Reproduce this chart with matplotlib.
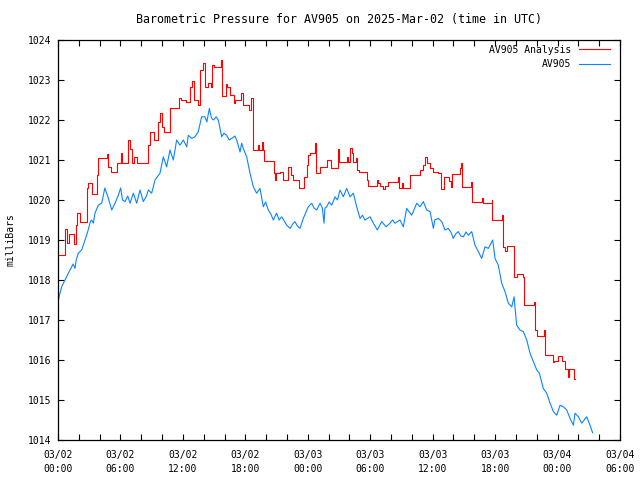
import matplotlib
matplotlib.use("Agg")
import matplotlib.pyplot as plt

# hours since 2025-03-02 00:00 UTC, pressure in mb
blue_h = [0.03, 0.1, 0.35, 0.67, 1.15, 1.45, 1.63, 1.75, 1.95, 2.27, 2.6, 2.9, 3.1, 3.23, 3.4,
          3.55, 3.88, 4.2, 4.5, 4.84, 5.16, 5.48, 5.8, 6.02, 6.2, 6.44, 6.7, 6.92, 7.24, 7.56,
          7.88, 8.2, 8.5, 8.68, 9.0, 9.32, 9.8, 10.12, 10.44, 10.76, 11.08, 11.4, 11.72, 12.04,
          12.37, 12.52, 12.85, 13.16, 13.48, 13.8, 14.12, 14.3, 14.54, 14.75, 14.93, 15.2, 15.4,
          15.73, 15.95, 16.2, 16.45, 16.69, 17.0, 17.17, 17.49, 17.65, 17.8, 18.13, 18.45, 18.77,
          19.09, 19.41, 19.73, 19.95, 20.21, 20.45, 20.69, 21.0, 21.25, 21.5, 21.98, 22.3, 22.55,
          22.77, 23.0, 23.25, 23.57, 24.05, 24.38, 24.6, 24.86, 25.18, 25.4, 25.56, 25.65, 25.82,
          26.05, 26.3, 26.62, 26.85, 27.1, 27.41, 27.74, 28.06, 28.38, 28.7, 29.02, 29.25, 29.5,
          29.98, 30.3, 30.68, 31.1, 31.52, 31.9, 32.15, 32.38, 32.86, 33.18, 33.5, 33.75, 33.98,
          34.2, 34.47, 34.79, 35.1, 35.43, 35.75, 36.07, 36.2, 36.55, 36.87, 37.19, 37.5, 37.75,
          37.98, 38.2, 38.46, 38.7, 38.95, 39.2, 39.43, 39.75, 40.07, 40.39, 40.71, 41.03, 41.35,
          41.77, 41.99, 42.31, 42.63, 42.95, 43.27, 43.6, 43.82, 44.07, 44.39, 44.71, 45.04,
          45.35, 45.67, 46.0, 46.25, 46.63, 46.96, 47.28, 47.6, 47.92, 48.24, 48.56, 48.88, 49.2,
          49.52, 49.68, 50.0, 50.32, 50.8, 51.12, 51.37]
blue_mb = [1017.46, 1017.58, 1017.83, 1018.0, 1018.25, 1018.4, 1018.29, 1018.5, 1018.67, 1018.75,
           1019.0, 1019.25, 1019.45, 1019.5, 1019.42, 1019.67, 1019.87, 1019.92, 1020.3, 1020.04,
           1019.75, 1019.92, 1020.12, 1020.3, 1020.0, 1019.96, 1020.1, 1019.92, 1020.17, 1019.92,
           1020.25, 1019.96, 1020.1, 1020.25, 1020.17, 1020.5, 1020.67, 1021.08, 1020.83, 1021.25,
           1021.0, 1021.5, 1021.37, 1021.5, 1021.33, 1021.62, 1021.54, 1021.58, 1021.71, 1022.08,
           1022.08, 1021.95, 1022.29, 1022.05, 1022.0, 1022.08, 1022.0, 1021.58, 1021.67, 1021.62,
           1021.5, 1021.54, 1021.6, 1021.5, 1021.2, 1021.42, 1021.29, 1021.08, 1020.67, 1020.33,
           1020.17, 1020.29, 1019.83, 1019.95, 1019.75, 1019.65, 1019.5, 1019.67, 1019.5, 1019.58,
           1019.37, 1019.29, 1019.4, 1019.46, 1019.35, 1019.29, 1019.54, 1019.83, 1019.92, 1019.8,
           1019.75, 1019.92, 1019.8, 1019.42, 1019.8, 1019.83, 1019.95, 1019.87, 1020.08, 1020.0,
           1020.25, 1020.08, 1020.29, 1020.08, 1020.17, 1019.83, 1019.54, 1019.62, 1019.5, 1019.58,
           1019.42, 1019.25, 1019.46, 1019.33, 1019.42, 1019.5, 1019.42, 1019.5, 1019.33, 1019.79,
           1019.7, 1019.62, 1019.75, 1019.92, 1019.83, 1019.96, 1019.75, 1019.71, 1019.29, 1019.5,
           1019.54, 1019.46, 1019.25, 1019.29, 1019.2, 1019.04, 1019.15, 1019.21, 1019.1, 1019.08,
           1019.2, 1019.12, 1019.21, 1018.87, 1018.71, 1018.54, 1018.83, 1018.79, 1019.0, 1018.54,
           1018.37, 1017.92, 1017.71, 1017.42, 1017.33, 1017.58, 1016.87, 1016.75, 1016.71, 1016.5,
           1016.17, 1015.96, 1015.75, 1015.67, 1015.29, 1015.17, 1014.92, 1014.71, 1014.62, 1014.87,
           1014.83, 1014.75, 1014.54, 1014.37, 1014.67, 1014.58, 1014.42, 1014.58, 1014.37, 1014.18]

# analysis: value changes (step plot)
red_h = [0.0, 0.67, 0.83, 1.06, 1.54, 1.7, 1.79, 2.11, 2.75, 2.91, 3.24, 3.72, 3.81, 4.68, 4.84,
         5.09, 5.64, 6.05, 6.18, 6.69, 6.92, 7.14, 7.33, 7.59, 8.68, 8.81, 9.26, 9.64, 9.8, 9.96,
         10.15, 10.76, 11.63, 11.82, 12.27, 12.69, 12.84, 13.07, 13.42, 13.68, 13.9, 14.13, 14.45,
         14.67, 14.77, 15.02, 15.63, 15.79, 16.11, 16.24, 16.53, 16.91, 17.04, 17.58, 17.78,
         18.38, 18.54, 18.7, 18.77, 19.25, 19.35, 19.57, 19.67, 19.8, 20.79, 20.85, 20.92, 21.33,
         21.65, 22.13, 22.36, 22.55, 23.19, 23.67, 23.89, 24.05, 24.21, 24.67, 24.79, 25.18,
         25.88, 26.2, 26.87, 26.97, 27.74, 27.9, 28.06, 28.22, 28.31, 28.63, 28.76, 28.96, 29.66,
         29.82, 30.62, 30.78, 30.94, 31.26, 31.42, 31.74, 32.7, 32.8, 33.02, 33.18, 33.82, 34.78,
         35.04, 35.26, 35.42, 35.74, 36.07, 36.55, 36.77, 37.09, 37.6, 37.73, 37.83, 38.63, 38.73,
         38.8, 39.65, 39.75, 40.77, 40.87, 41.67, 41.73, 42.66, 42.73, 42.98, 43.1, 43.85, 44.08,
         44.65, 44.81, 45.76, 45.83, 45.99, 46.73, 46.83, 47.53, 47.6, 47.69, 48.08, 48.46, 48.72,
         49.04, 49.13, 49.58, 49.68]
red_mb = [1018.62, 1019.27, 1018.92, 1019.15, 1018.9, 1019.37, 1019.67, 1019.44, 1020.29, 1020.43,
          1020.15, 1020.62, 1021.06, 1021.15, 1020.82, 1020.71, 1020.92, 1021.17, 1020.92, 1021.5,
          1021.27, 1020.92, 1021.07, 1020.92, 1021.37, 1021.69, 1021.5, 1021.96, 1022.18, 1021.83,
          1021.71, 1022.31, 1022.54, 1022.5, 1022.46, 1022.83, 1022.98, 1022.5, 1022.37, 1023.25,
          1023.43, 1022.83, 1022.92, 1022.83, 1023.37, 1023.33, 1023.5, 1022.6, 1022.9, 1022.83,
          1022.62, 1022.42, 1022.5, 1022.67, 1022.37, 1022.25, 1022.54, 1021.96, 1021.25, 1021.37,
          1021.25, 1021.44, 1021.25, 1020.98, 1020.67, 1020.5, 1020.67, 1020.7, 1020.5, 1020.83,
          1020.62, 1020.5, 1020.29, 1020.58, 1020.87, 1021.12, 1021.17, 1021.42, 1020.67, 1020.83,
          1021.0, 1020.79, 1021.27, 1020.96, 1021.08, 1020.96, 1021.29, 1021.17, 1020.96, 1021.04,
          1020.75, 1020.71, 1020.5, 1020.35, 1020.5, 1020.42, 1020.35, 1020.27, 1020.35, 1020.46,
          1020.58, 1020.29, 1020.42, 1020.29, 1020.62, 1020.75, 1020.87, 1021.08, 1020.92, 1020.79,
          1020.71, 1020.67, 1020.27, 1020.57, 1020.48, 1020.33, 1020.65, 1020.79, 1020.93, 1020.32,
          1020.46, 1019.96, 1020.04, 1019.93, 1020.0, 1019.5, 1019.62, 1018.82, 1018.72, 1018.85,
          1018.08, 1018.15, 1018.08, 1017.37, 1017.45, 1016.75, 1016.6, 1016.75, 1016.12, 1016.0,
          1015.95, 1015.97, 1016.1, 1015.97, 1015.77, 1015.57, 1015.77, 1015.52, 1015.52]

tick_h = [0, 6, 12, 18, 24, 30, 36, 42, 48, 54]
tick_labels = ['03/02\n00:00', '03/02\n06:00', '03/02\n12:00', '03/02\n18:00', '03/03\n00:00',
               '03/03\n06:00', '03/03\n12:00', '03/03\n18:00', '03/04\n00:00', '03/04\n06:00']

plt.rcParams['font.family'] = 'DejaVu Sans Mono'
plt.rcParams['font.size'] = 7

fig = plt.figure(figsize=(6.4, 4.8), dpi=100)
ax = fig.add_axes([58/640, 40/480, 562/640, 400/480])

ax.plot(red_h, red_mb, color='#ff0000', lw=0.8, drawstyle='steps-post', label='AV905 Analysis')
ax.plot(blue_h, blue_mb, color='#0a84ff', lw=0.8, label='AV905')

ax.set_xlim(0, 54)
ax.set_ylim(1014, 1024)
ax.set_xticks(tick_h)
ax.set_xticklabels(tick_labels, linespacing=1.5)
ax.set_xticks(range(0, 55, 2), minor=True)
ax.set_yticks(range(1014, 1025))
ax.tick_params(which='both', direction='in', top=True, right=True, length=4, width=0.8)
ax.tick_params(axis='x', pad=7)
ax.tick_params(axis='y', pad=5)
for s in ax.spines.values():
    s.set_linewidth(0.9)

ax.set_title('Barometric Pressure for AV905 on 2025-Mar-02 (time in UTC)', pad=12)
ax.set_ylabel('milliBars')
ax.yaxis.set_label_coords(-0.075, 0.5)

ax.legend(loc='upper right', bbox_to_anchor=(0.99, 1.0), frameon=False, markerfirst=False,
          handlelength=3.1, handletextpad=0.8, labelspacing=0.45, borderaxespad=0.3,
          borderpad=0.2)

fig.savefig('out.png', dpi=100)
